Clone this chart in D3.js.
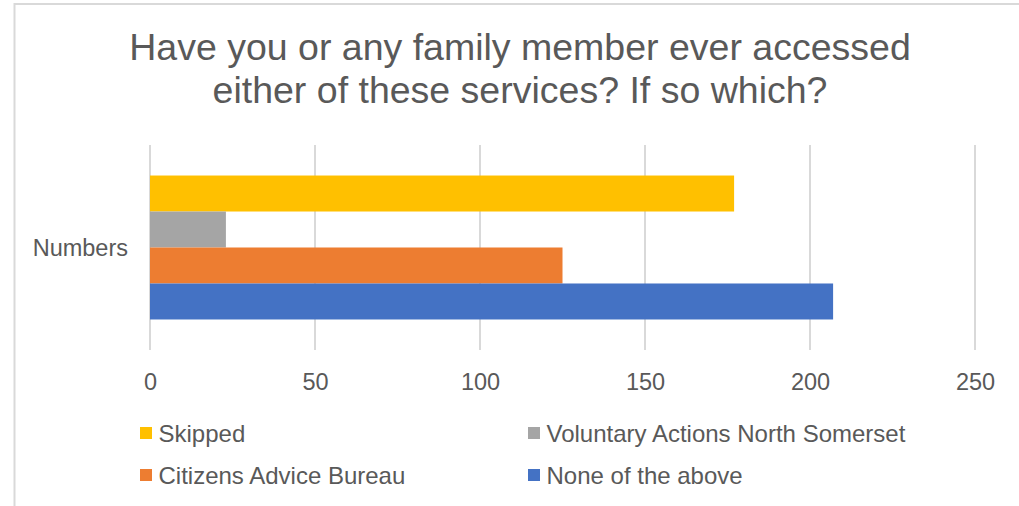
<!DOCTYPE html>
<html>
<head>
<meta charset="utf-8">
<script src="https://cdn.jsdelivr.net/npm/d3@7"></script>
<style>
  html, body { margin: 0; padding: 0; background: #fff; }
  svg text { font-family: "Liberation Sans", Arial, sans-serif; fill: #595959; }
</style>
</head>
<body>
<svg id="chart" width="1019" height="506"></svg>
<script>
// Survey responses: "Have you or any family member ever accessed either of these services?"
const category = "Numbers";
const seriesNames = ["Skipped", "Voluntary Actions North Somerset", "Citizens Advice Bureau", "None of the above"];
const seriesValues = [177, 23, 125, 207];
const seriesColors = ["#FFC000", "#A5A5A5", "#ED7D31", "#4472C4"];
const tickValues = [0, 50, 100, 150, 200, 250];
const titleLines = ["Have you or any family member ever accessed", "either of these services? If so which?"];

const svg = d3.select("#chart");
const W = 1019, H = 506;
const labelSize = 23.5;
const legendSize = 24;

// Chart frame (top and left edges)
svg.append("path")
  .attr("d", `M14.5,${H} L14.5,4 L${W},4`)
  .attr("fill", "none")
  .attr("stroke", "#D9D9D9")
  .attr("stroke-width", 2);

// Title
titleLines.forEach((line, i) => {
  svg.append("text")
    .attr("x", 520)
    .attr("y", 59.5 + i * 43)
    .attr("text-anchor", "middle")
    .attr("font-size", 37.5)
    .text(line);
});

const plot = { left: 150, right: 975, top: 145, bottom: 350 };

const x = d3.scaleLinear().domain([0, 250]).range([plot.left, plot.right]);
const yCat = d3.scaleBand().domain([category]).range([plot.top, plot.bottom]).paddingInner(0).paddingOuter(0.212);
const ySeries = d3.scaleBand().domain(seriesNames).range([0, yCat.bandwidth()]);

// Vertical gridlines
svg.append("g")
  .selectAll("line")
  .data(tickValues)
  .join("line")
  .attr("x1", d => x(d)).attr("x2", d => x(d))
  .attr("y1", plot.top).attr("y2", plot.bottom)
  .attr("stroke", "#D9D9D9")
  .attr("stroke-width", 2);

// Bars
svg.append("g")
  .selectAll("rect")
  .data(seriesNames.map((name, i) => ({ name, value: seriesValues[i], color: seriesColors[i] })))
  .join("rect")
  .attr("x", x(0))
  .attr("y", d => yCat(category) + ySeries(d.name))
  .attr("width", d => x(d.value) - x(0))
  .attr("height", ySeries.bandwidth())
  .attr("fill", d => d.color);

// Value axis labels
const xAxis = d3.axisBottom(x).tickValues(tickValues).tickSize(0).tickPadding(0);
const gx = svg.append("g").attr("transform", `translate(0,${plot.bottom})`).call(xAxis);
gx.select(".domain").remove();
gx.selectAll("text")
  .attr("font-size", labelSize)
  .attr("dy", null)
  .attr("y", 40)
  .style("fill", "#595959")
  .style("font-family", '"Liberation Sans", Arial, sans-serif');

// Category label
svg.append("text")
  .attr("x", 128)
  .attr("y", yCat(category) + yCat.bandwidth() / 2 + 8.5)
  .attr("text-anchor", "end")
  .attr("font-size", labelSize)
  .text(category);

// Legend (2 columns x 2 rows)
const legendCols = [140, 528];
const legendRows = [433, 475];
const legend = svg.append("g")
  .selectAll("g")
  .data(seriesNames.map((name, i) => ({ name, color: seriesColors[i], col: i % 2, row: Math.floor(i / 2) })))
  .join("g")
  .attr("transform", d => `translate(${legendCols[d.col]},${legendRows[d.row]})`);
legend.append("rect")
  .attr("x", 0).attr("y", -6)
  .attr("width", 12).attr("height", 12)
  .attr("fill", d => d.color);
legend.append("text")
  .attr("x", 18.5)
  .attr("y", 8.6)
  .attr("font-size", legendSize)
  .text(d => d.name);
</script>
</body>
</html>
